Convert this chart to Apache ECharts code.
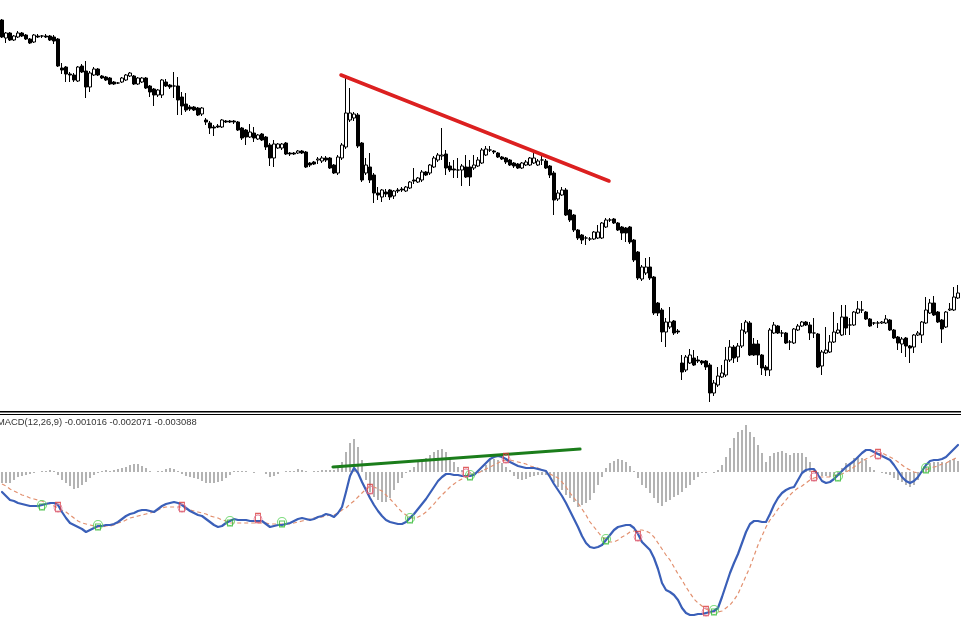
<!DOCTYPE html>
<html>
<head>
<meta charset="utf-8">
<script src="https://cdn.jsdelivr.net/npm/echarts@6/dist/echarts.min.js"></script>
<style>html,body{margin:0;padding:0;background:#fff;}#c{width:961px;height:622px;}</style>
</head>
<body>
<div id="c"></div>
<script>
// ---- price candles (points: 13380 = 1.3380) ----
const openP = [13380,13362,13367,13360,13363,13367,13365,13361,13358,13364,13364,13364,13364,13363,13361,13332,13333,13326,13325,13319,
13334,13329,13313,13325,13331,13324,13323,13322,13318,13317,13318,13320,13324,13324,13316,13318,13322,13314,13311,13305,
13305,13318,13315,13314,13314,13303,13296,13293,13293,13292,13286,13280,13277,13273,13274,13273,13279,13279,13279,13278,
13272,13270,13263,13267,13261,13266,13263,13255,13242,13252,13252,13257,13247,13247,13247,13249,13248,13237,13238,13240,
13239,13242,13242,13235,13227,13242,13253,13280,13282,13285,13257,13227,13233,13225,13207,13203,13208,13210,13204,13210,
13211,13209,13212,13220,13218,13220,13228,13227,13233,13240,13244,13246,13234,13231,13230,13230,13233,13233,13232,13234,
13237,13245,13250,13249,13247,13243,13242,13240,13237,13236,13232,13235,13235,13237,13235,13240,13239,13234,13227,13201,
13205,13210,13190,13185,13170,13165,13162,13161,13161,13162,13162,13173,13180,13181,13177,13173,13172,13173,13160,13148,
13121,13127,13133,13123,13097,13090,13068,13073,13079,13069,13037,13030,13037,13042,13040,13039,13039,13035,13007,13015,
13023,13025,13040,13053,13043,13054,13068,13077,13056,13056,13045,13033,13030,13067,13074,13067,13067,13058,13057,13070,
13074,13078,13075,13067,13066,13034,13047,13048,13058,13067,13065,13083,13075,13075,13087,13090,13088,13081,13077,13077,
13077,13077,13080,13070,13063,13056,13062,13054,13053,13065,13065,13077,13087,13097,13088,13080,13073,13090,13090,13102];
const closeP = [13363,13367,13360,13364,13367,13364,13361,13357,13365,13363,13364,13363,13360,13359,13334,13330,13326,13325,13320,13333,
13328,13313,13327,13331,13325,13322,13320,13316,13316,13317,13322,13325,13327,13316,13322,13322,13312,13308,13305,13310,
13320,13314,13313,13314,13300,13294,13290,13291,13290,13285,13292,13278,13272,13272,13273,13280,13278,13278,13278,13270,
13262,13263,13268,13262,13265,13260,13253,13242,13256,13256,13256,13246,13246,13246,13249,13247,13233,13235,13236,13241,
13242,13240,13232,13227,13243,13255,13287,13287,13286,13254,13220,13235,13220,13207,13205,13210,13206,13203,13209,13209,
13210,13213,13218,13219,13222,13228,13225,13235,13242,13245,13245,13232,13230,13230,13230,13234,13223,13223,13235,13240,
13250,13251,13250,13248,13243,13241,13238,13235,13234,13232,13237,13238,13242,13242,13239,13240,13232,13225,13200,13207,
13210,13185,13180,13170,13162,13160,13162,13161,13168,13168,13177,13180,13180,13177,13170,13167,13167,13158,13140,13122,
13133,13133,13122,13087,13087,13068,13078,13078,13067,13068,13028,13043,13045,13035,13039,13037,13033,13007,13017,13024,
13027,13040,13053,13042,13054,13070,13078,13045,13045,13045,13032,13030,13070,13075,13067,13067,13057,13058,13071,13074,
13078,13075,13067,13067,13033,13048,13050,13058,13068,13070,13083,13072,13075,13088,13091,13090,13081,13074,13077,13077,
13078,13081,13070,13062,13057,13061,13054,13052,13065,13067,13078,13090,13097,13085,13078,13071,13088,13091,13103,13107];
const lowP = [13362,13357,13359,13359,13362,13363,13360,13356,13357,13362,13362,13362,13359,13356,13333,13326,13318,13318,13318,13318,
13327,13302,13308,13324,13324,13321,13319,13315,13315,13316,13317,13319,13323,13315,13315,13317,13311,13303,13294,13303,
13302,13313,13311,13302,13285,13285,13288,13289,13289,13284,13284,13275,13266,13264,13272,13272,13277,13277,13276,13269,
13260,13255,13262,13258,13260,13259,13250,13234,13233,13251,13250,13245,13244,13245,13246,13246,13232,13233,13235,13236,
13237,13238,13231,13226,13225,13240,13251,13278,13279,13252,13218,13225,13217,13197,13200,13198,13203,13200,13201,13207,
13208,13208,13211,13216,13217,13218,13224,13225,13232,13238,13240,13225,13228,13222,13222,13214,13222,13214,13230,13233,
13236,13244,13248,13246,13242,13240,13236,13234,13232,13231,13231,13234,13234,13236,13234,13235,13231,13222,13185,13199,
13204,13184,13178,13168,13160,13156,13155,13159,13160,13161,13161,13172,13178,13176,13169,13160,13158,13156,13138,13120,
13119,13125,13120,13085,13084,13058,13053,13071,13065,13066,13020,13028,13036,13034,13037,13035,13030,12998,13004,13013,
13022,13023,13038,13037,13038,13052,13066,13044,13044,13035,13025,13024,13024,13066,13066,13063,13056,13050,13056,13069,
13073,13074,13060,13062,13032,13025,13046,13047,13057,13066,13064,13065,13065,13074,13086,13087,13080,13073,13075,13072,
13076,13076,13069,13061,13050,13047,13043,13037,13047,13064,13057,13076,13086,13084,13077,13057,13072,13089,13089,13101];
const highP = [13381,13368,13368,13365,13369,13368,13366,13362,13366,13366,13365,13366,13365,13365,13362,13337,13334,13328,13327,13334,
13336,13339,13329,13333,13332,13325,13324,13323,13319,13318,13323,13326,13328,13325,13323,13323,13323,13315,13312,13311,
13321,13321,13316,13328,13323,13308,13307,13295,13294,13293,13293,13282,13279,13275,13276,13281,13280,13280,13280,13279,
13273,13271,13276,13273,13266,13267,13264,13257,13260,13257,13257,13258,13248,13248,13250,13250,13249,13238,13239,13243,
13244,13244,13243,13236,13245,13257,13325,13312,13288,13287,13258,13242,13247,13227,13213,13211,13211,13211,13210,13212,
13213,13214,13219,13232,13223,13230,13229,13236,13244,13247,13272,13250,13238,13240,13242,13236,13245,13240,13245,13243,
13252,13254,13254,13250,13248,13244,13243,13241,13238,13237,13238,13240,13243,13248,13241,13247,13241,13235,13229,13210,
13213,13212,13191,13186,13171,13166,13164,13163,13169,13175,13178,13182,13182,13182,13178,13174,13173,13174,13161,13149,
13135,13142,13143,13124,13098,13092,13082,13093,13080,13071,13045,13045,13051,13050,13044,13040,13040,13037,13020,13033,
13035,13053,13060,13055,13057,13077,13080,13079,13062,13060,13046,13035,13072,13078,13075,13070,13068,13060,13072,13076,
13079,13079,13078,13082,13067,13050,13073,13065,13088,13077,13095,13095,13082,13089,13099,13099,13089,13082,13078,13079,
13079,13085,13081,13071,13064,13063,13063,13055,13066,13069,13079,13103,13101,13104,13089,13081,13089,13097,13113,13115];

// ---- MACD panel (units of 0.00001) ----
const histV = [-11,-11,-11,-8,-5,-4,-3,-2,-1,0, 1,1,2,1,-3,-8,-11,-14,-17,-16,
-13,-10,-6,-3,-1,1,2,1,2,3, 4,5,7,8,8,6,4,1,0,1,
1,3,4,3,1,-2,-4,-5,-6,-7, -9,-11,-11,-11,-10,-9,-6,-3,1,1,
1,1,0,-1,0,0,-2,-5,-4,-2, 0,1,1,1,3,2,1,0,1,1,
2,2,2,2,4,10,20,29,33,25, 12,-8,-20,-25,-28,-30,-30,-26,-18,-11,
-6,-1,2,5,10,12,14,17,20,22, 23,20,15,10,5,2,0,-1,-3,-1,
2,7,12,13,12,9,5,2,-4,-7, -8,-7,-5,-4,-3,-3,-3,-5,-10,-15,
-18,-23,-26,-30,-35,-33,-31,-28,-21,-13, -5,4,9,11,13,12,10,6,1,-6,
-13,-16,-21,-26,-31,-34,-30,-28,-25,-23, -20,-16,-13,-8,-5,-1,-1,0,-1,2,
7,15,24,34,40,42,47,40,35,27, 19,10,16,19,20,21,19,17,19,19,
19,15,10,2,-3,-4,-4,-5,-4,-2, 4,9,9,14,15,14,12,5,2,0,
-1,-2,-3,-6,-8,-10,-13,-15,-13,-8, -1,5,9,10,10,10,9,12,13,11];
const macdV = [-20,-24,-28,-29,-31,-32,-33,-34,-34,-34, -33,-32,-31,-31,-33,-40,-46,-51,-53,-55,
-57,-60,-58,-56,-54,-54,-53,-53,-52,-50, -47,-44,-42,-41,-39,-38,-38,-39,-40,-37,
-34,-32,-31,-30,-31,-33,-36,-39,-41,-43, -44,-47,-50,-53,-55,-54,-51,-49,-47,-48,
-48,-48,-49,-49,-49,-49,-52,-55,-54,-53, -53,-52,-51,-49,-47,-46,-47,-48,-47,-45,
-44,-42,-43,-45,-41,-35,-20,-4,4,-1, -10,-18,-26,-33,-39,-44,-48,-50,-51,-52,
-52,-50,-46,-42,-37,-32,-27,-21,-15,-9, -5,-2,-2,-3,-3,-4,-4,-4,-3,1,
5,9,13,15,16,15,13,10,8,6, 5,4,4,4,3,2,1,-5,-12,-18,
-24,-31,-39,-47,-55,-64,-71,-75,-76,-75, -73,-68,-63,-58,-55,-54,-53,-53,-56,-62,
-70,-74,-78,-86,-97,-111,-118,-120,-123,-128, -136,-141,-143,-143,-142,-142,-141,-140,-139,-136,
-125,-113,-101,-91,-82,-71,-60,-52,-49,-49, -50,-50,-42,-33,-26,-21,-18,-16,-15,-8,
-1,2,3,3,-3,-9,-11,-10,-7,-3, 1,5,8,11,15,19,22,22,20,18,
16,14,12,7,1,-5,-9,-11,-9,-5, 1,7,11,12,12,13,15,19,23,27];
const signalV = [-12,-14,-17,-19,-21,-23,-24,-26,-27,-28, -29,-31,-32,-34,-36,-38,-40,-43,-46,-49,
-51,-52,-53,-54,-55,-55,-54,-54,-53,-51, -50,-48,-46,-45,-44,-43,-42,-41,-40,-38,
-36,-35,-35,-35,-35,-35,-37,-38,-39,-40, -41,-42,-44,-45,-46,-48,-49,-51,-51,-51,
-51,-51,-51,-51,-51,-51,-51,-52,-52,-52, -52,-52,-52,-51,-50,-49,-48,-47,-46,-46,
-45,-44,-43,-43,-41,-38,-36,-32,-29,-25, -21,-17,-15,-15,-17,-19,-23,-27,-31,-36,
-40,-43,-46,-46,-45,-43,-40,-36,-32,-27, -23,-19,-15,-12,-9,-7,-5,-3,-2,-1,
1,3,5,7,9,11,12,12,11,10, 9,8,6,5,4,2,1,-2,-4,-6,
-10,-15,-21,-26,-31,-37,-43,-50,-55,-60, -65,-68,-70,-70,-68,-65,-63,-60,-59,-58,
-58,-59,-61,-65,-71,-77,-83,-88,-95,-102, -108,-115,-121,-127,-131,-134,-137,-139,-140,-140,
-139,-136,-133,-128,-122,-113,-104,-95,-84,-73, -64,-55,-48,-43,-37,-33,-28,-23,-19,-16,
-14,-11,-8,-6,-5,-5,-5,-5,-4,-3, -2,0,2,5,8,11,13,15,17,18,
19,17,15,13,10,7,4,2,0,-1, 0,2,4,5,6,8,9,11,13,15];

// crossover markers: [bar index, MACD value]
const buyMarks = [[10,-33],[24,-53],[57,-49],[70,-50],[102,-46],[117,-3],[151,-67],[178,-138],[209,-4],[231,4]];
const sellMarks = [[14,-36],[45,-36],[64,-47],[92,-18],[116,-1],[126,13],[159,-65],[176,-140],[203,-5],[219,17]];

// drawn trendlines: [bar index, value]
const redTrend = [[84.75,13325],[151.75,13219]];
const greenTrend = [[82.75,5],[144.5,23]];

const headerText = 'MACD(12,26,9) -0.001016 -0.002071 -0.003088';

// ---- build ----
const N = openP.length;
const cats = Array.from({length:N}, (_, i) => String(i));
const P = v => v / 10000;
const M = v => v / 100000;
const candles = openP.map((o, i) => [P(o), P(closeP[i]), P(lowP[i]), P(highP[i])]);

const chart = echarts.init(document.getElementById('c'), null, {renderer:'canvas'});
chart.setOption({
  animation: false,
  backgroundColor: '#ffffff',
  grid: [
    {left: 0, top: 0, width: 960, height: 410},
    {left: 0, top: 415, width: 960, height: 207}
  ],
  xAxis: [
    {type:'category', data: cats, gridIndex:0, show:false, boundaryGap:true},
    {type:'category', data: cats, gridIndex:1, show:false, boundaryGap:true},
    {type:'value', gridIndex:0, show:false, min:-0.5, max:N-0.5},
    {type:'value', gridIndex:1, show:false, min:-0.5, max:N-0.5}
  ],
  yAxis: [
    {type:'value', gridIndex:0, show:false, min:1.2990, max:1.3400, scale:true},
    {type:'value', gridIndex:1, show:false, min:-0.0015, max:0.00057}
  ],
  graphic: [
    {type:'rect', shape:{x:0, y:411, width:961, height:1.6}, style:{fill:'#000'}, z:100},
    {type:'rect', shape:{x:0, y:414, width:961, height:1}, style:{fill:'#000'}, z:100},
    {type:'text', left:-3, top:418, z:100,
     style:{text: headerText, fontSize:9.4, fontFamily:'Liberation Sans, Arial, sans-serif', fill:'#333'}}
  ],
  series: [
    {
      type:'candlestick', xAxisIndex:0, yAxisIndex:0, data: candles, barWidth:3,
      itemStyle:{color:'#ffffff', color0:'#000000', borderColor:'#000000', borderColor0:'#000000', borderWidth:1}
    },
    {
      type:'line', xAxisIndex:2, yAxisIndex:0, data: redTrend.map(p => [p[0], P(p[1])]),
      showSymbol:false, lineStyle:{color:'#dc2020', width:3.5, cap:'round'}, z:5
    },
    {
      type:'bar', xAxisIndex:1, yAxisIndex:1, data: histV.map(M), barWidth:2,
      itemStyle:{color:'#b3b3b3'}, z:1
    },
    {
      type:'line', xAxisIndex:1, yAxisIndex:1, data: signalV.map(M), showSymbol:false,
      lineStyle:{color:'#e2906f', width:1.2, type:[4,3]}, z:3
    },
    {
      type:'line', xAxisIndex:1, yAxisIndex:1, data: macdV.map(M), showSymbol:false,
      lineStyle:{color:'#3a5fb8', width:2.2, cap:'round', join:'round'}, z:4
    },
    {
      type:'line', xAxisIndex:3, yAxisIndex:1, data: greenTrend.map(p => [p[0], M(p[1])]),
      showSymbol:false, lineStyle:{color:'#1b7d1b', width:3.2, cap:'round'}, z:6
    },
    {
      type:'scatter', xAxisIndex:3, yAxisIndex:1, data: buyMarks.map(p => [p[0], M(p[1])]),
      symbol:'circle', symbolSize:9,
      itemStyle:{color:'rgba(0,0,0,0)', borderColor:'#5fd35f', borderWidth:1.2}, z:7
    },
    {
      type:'scatter', xAxisIndex:3, yAxisIndex:1, data: buyMarks.map(p => [p[0], M(p[1])]),
      symbol:'rect', symbolSize:[5,6], symbolOffset:[0,2],
      itemStyle:{color:'rgba(0,0,0,0)', borderColor:'#2fb52f', borderWidth:1}, z:7
    },
    {
      type:'scatter', xAxisIndex:3, yAxisIndex:1, data: sellMarks.map(p => [p[0], M(p[1])]),
      symbol:'rect', symbolSize:[5,9], symbolOffset:[0,-1],
      itemStyle:{color:'rgba(0,0,0,0)', borderColor:'#d83838', borderWidth:1.2}, z:7
    },
    {
      type:'scatter', xAxisIndex:3, yAxisIndex:1, data: sellMarks.map(p => [p[0], M(p[1])]),
      symbol:'circle', symbolSize:8,
      itemStyle:{color:'rgba(0,0,0,0)', borderColor:'#e07a9a', borderWidth:1}, z:7
    }
  ]
});
</script>
</body>
</html>
